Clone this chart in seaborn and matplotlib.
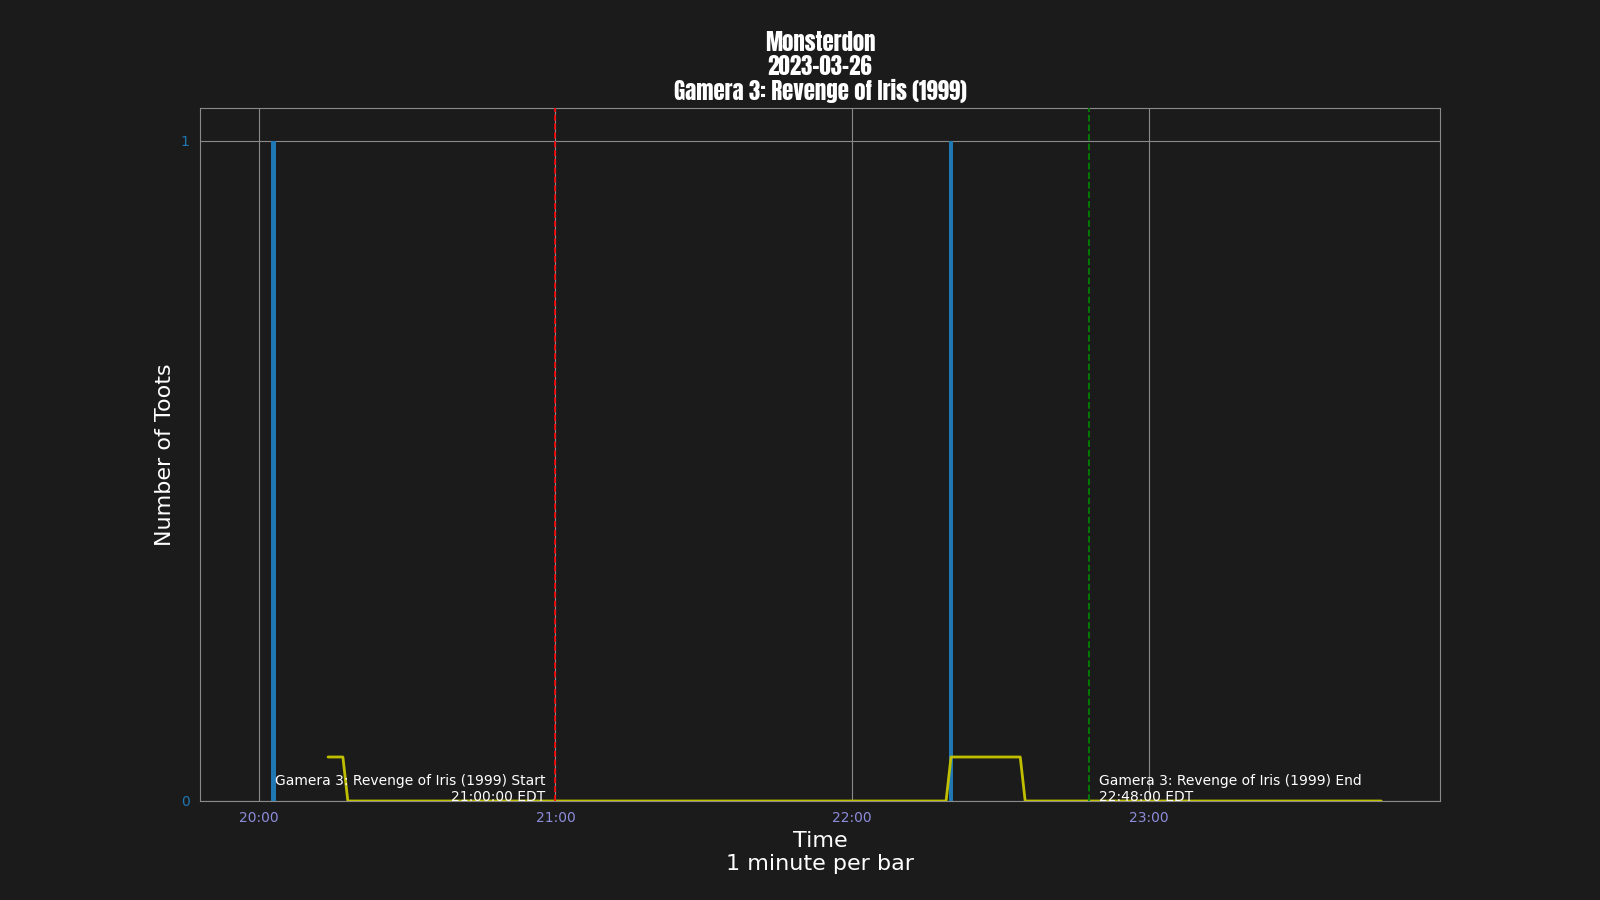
import pandas as pd
import matplotlib
matplotlib.use('Agg')
import matplotlib.pyplot as plt
import matplotlib.dates as mdates
import seaborn as sns

# data
day = '2023-03-26'
window_start = '20:00'
window_end = '23:47'
toot_minutes = ['20:03', '22:20']
toot_counts = [1, 1]
rolling_window = 15
movie = 'Gamera 3: Revenge of Iris (1999)'
movie_start = '21:00:00'
movie_end = '22:48:00'

BG = '#1b1b1b'
GRID = '#8a8a8a'
XTICK = '#8c8cdc'
BLUE = '#1f77b4'


def build_counts():
    idx = pd.date_range(f'{day} {window_start}', f'{day} {window_end}', freq='1min')
    s = pd.Series(0, index=idx, dtype=float)
    for t, c in zip(toot_minutes, toot_counts):
        s[pd.Timestamp(f'{day} {t}')] = c
    return s


def draw(counts):
    sns.set_style('dark')
    plt.rcParams['font.family'] = ['DejaVu Sans']
    fig, ax = plt.subplots(figsize=(16, 9), dpi=100)
    fig.patch.set_facecolor(BG)
    ax.set_facecolor(BG)

    ax.bar(counts.index, counts.values, width=1 / 1440, color=BLUE, linewidth=0, zorder=3)
    roll = counts.rolling(rolling_window).mean().dropna()
    sns.lineplot(x=roll.index, y=roll.values, ax=ax, color='y', linewidth=2, zorder=4)

    t0 = pd.Timestamp(f'{day} {movie_start}')
    t1 = pd.Timestamp(f'{day} {movie_end}')
    ax.axvline(t0, color='r', linestyle='--', linewidth=1.2, zorder=5)
    ax.axvline(t1, color='g', linestyle='--', linewidth=1.3, zorder=5)
    off = pd.Timedelta(minutes=2)
    ax.text(t0 - off, 0, f'{movie} Start\n{movie_start} EDT', ha='right', va='baseline',
            color='white', fontsize=10, zorder=6)
    ax.text(t1 + off, 0, f'{movie} End\n{movie_end} EDT', ha='left', va='baseline',
            color='white', fontsize=10, zorder=6)

    ax.xaxis.set_major_locator(mdates.HourLocator())
    ax.xaxis.set_major_formatter(mdates.DateFormatter('%H:%M'))
    ax.set_yticks([0, 1])
    ax.tick_params(axis='x', colors=XTICK, labelsize=10, length=4, width=0.8)
    ax.tick_params(axis='y', colors=BLUE, labelsize=10, length=4, width=0.8)
    ax.grid(True, color=GRID, linewidth=0.8)
    for sp in ax.spines.values():
        sp.set_visible(True)
        sp.set_color(GRID)
        sp.set_linewidth(0.8)

    ax.set_xlabel('Time\n1 minute per bar', color='white', fontsize=16)
    ax.set_ylabel('Number of Toots', color='white', fontsize=16)
    ax.set_title(f'Monsterdon\n{day}\n{movie}', color='white', fontsize=16.5,
                 linespacing=1.03, family=['Anton', 'Oswald', 'DejaVu Sans'])

    fig.subplots_adjust(left=0.125, right=0.9, top=0.88, bottom=0.11)
    fig.savefig('out.png', facecolor=BG)


if __name__ == '__main__':
    draw(build_counts())
